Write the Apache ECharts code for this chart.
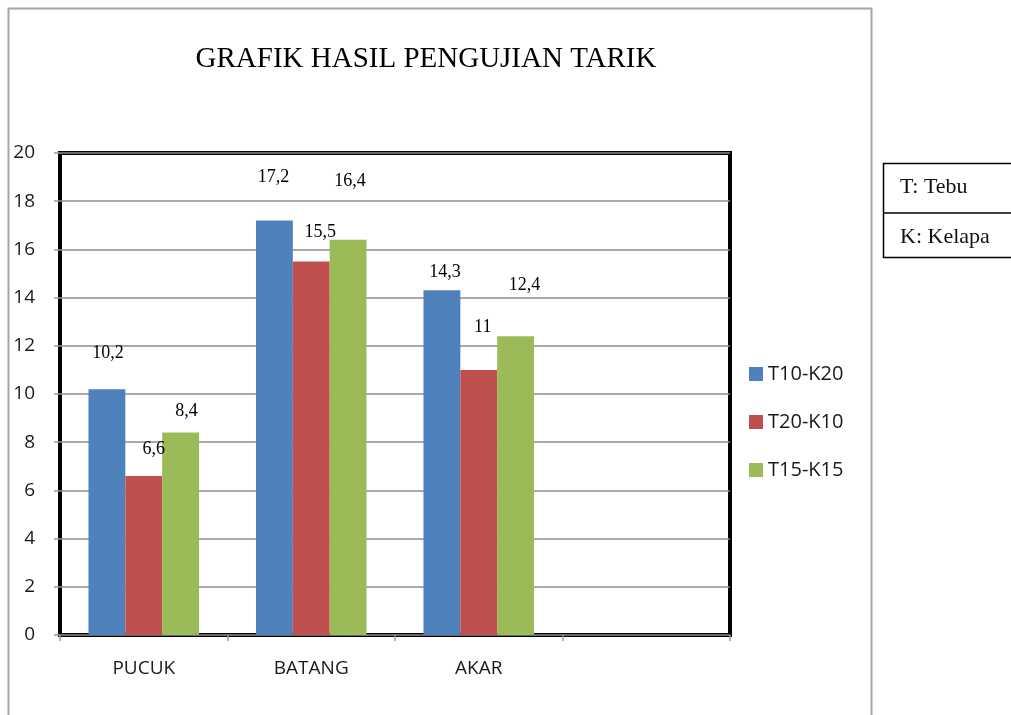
<!DOCTYPE html>
<html>
<head>
<meta charset="utf-8">
<title>Grafik Hasil Pengujian Tarik</title>
<script src="https://cdn.jsdelivr.net/npm/echarts@6/dist/echarts.min.js"></script>
<style>
html, body {
	margin: 0;
	padding: 0;
	background: #fff;
}
#chart {
	width: 1011px;
	height: 715px;
}
</style>
</head>
<body>
<div id="chart"></div>
<script type="text/javascript">

    // data
    var kategori = ['PUCUK', 'BATANG', 'AKAR', ''];
    var seriNama = ['T10-K20', 'T20-K10', 'T15-K15'];
    var nilaiT10K20 = [10.2, 17.2, 14.3, null];
    var nilaiT20K10 = [6.6, 15.5, 11, null];
    var nilaiT15K15 = [8.4, 16.4, 12.4, null];
    var sumbuY = [0, 2, 4, 6, 8, 10, 12, 14, 16, 18, 20];

    var warna = ['#4f81bd', '#c0504d', '#9bbb59'];

    // label placement (the labels sit at uneven heights in the original)
    var geserLabel = [
        [[1, -27], [-1, -34], [3, -9]],
        [[10, -18], [9, -20], [4, -34]],
        [[6, -12], [2, -49], [9, -42]]
    ];

    var chart = echarts.init(document.getElementById('chart'));

    function buatSeri(idx, nilai) {
        return {
            name: seriNama[idx],
            type: 'bar',
            barGap: 0,
            barCategoryGap: '34%',
            itemStyle: {color: warna[idx]},
            data: nilai.map(function (v, i) {
                var item = {value: v};
                if (v !== null && geserLabel[idx][i]) {
                    item.label = {offset: geserLabel[idx][i]};
                }
                return item;
            }),
            label: {
                show: true,
                position: 'top',
                distance: 0,
                fontFamily: 'Liberation Serif',
                fontSize: 18,
                color: '#000',
                formatter: function (p) {
                    return String(p.value).replace('.', ',');
                }
            }
        };
    }

    var option = {
        backgroundColor: '#fff',
        animation: false,
        title: {
            text: 'GRAFIK HASIL PENGUJIAN TARIK',
            left: 421,
            textAlign: 'center',
            top: 40,
            textStyle: {
                fontFamily: 'Liberation Serif',
                fontWeight: 'normal',
                fontSize: 29,
                color: '#000'
            }
        },
        legend: {
            orient: 'vertical',
            left: 744,
            top: 359,
            icon: 'rect',
            itemWidth: 14,
            itemHeight: 14,
            itemGap: 28,
            textStyle: {
                fontFamily: 'Open Sans',
                fontSize: 20,
                lineHeight: 20,
                color: '#1a1a1a'
            },
            data: seriNama
        },
        grid: {
            left: 60,
            top: 153,
            width: 670,
            height: 482,
            show: true,
            borderColor: '#000',
            borderWidth: 4,
            containLabel: false
        },
        xAxis: {
            type: 'category',
            data: kategori,
            axisLine: {show: false},
            axisTick: {
                show: true,
                length: 6,
                lineStyle: {color: '#999', width: 1.5}
            },
            axisLabel: {
                margin: 24,
                fontFamily: 'Open Sans',
                fontSize: 19,
                color: '#1a1a1a'
            }
        },
        yAxis: {
            type: 'value',
            min: sumbuY[0],
            max: sumbuY[sumbuY.length - 1],
            interval: 2,
            axisLine: {show: false},
            axisTick: {
                show: true,
                length: 6,
                lineStyle: {color: '#999', width: 1.5}
            },
            splitLine: {
                show: true,
                lineStyle: {color: '#8c8c8c', width: 1.5}
            },
            axisLabel: {
                margin: 25,
                fontFamily: 'Open Sans',
                fontSize: 19,
                color: '#1a1a1a'
            }
        },
        graphic: [
            {
                type: 'rect',
                z: -10,
                shape: {x: 8.5, y: 8.5, width: 863, height: 720},
                style: {fill: 'none', stroke: '#a6a6a6', lineWidth: 2}
            },
            {
                type: 'rect',
                shape: {x: 883.5, y: 163.5, width: 140, height: 94},
                style: {fill: '#fff', stroke: '#000', lineWidth: 1.5}
            },
            {
                type: 'line',
                shape: {x1: 883.5, y1: 213, x2: 1011, y2: 213},
                style: {stroke: '#000', lineWidth: 1.5}
            },
            {
                type: 'text',
                left: 900,
                top: 176,
                style: {text: 'T: Tebu', fontFamily: 'Liberation Serif', fontSize: 22, fill: '#111'}
            },
            {
                type: 'text',
                left: 900,
                top: 226,
                style: {text: 'K: Kelapa', fontFamily: 'Liberation Serif', fontSize: 22, fill: '#111'}
            }
        ],
        series: [
            buatSeri(0, nilaiT10K20),
            buatSeri(1, nilaiT20K10),
            buatSeri(2, nilaiT15K15)
        ]
    };

    chart.setOption(option);
</script>
</body>
</html>
